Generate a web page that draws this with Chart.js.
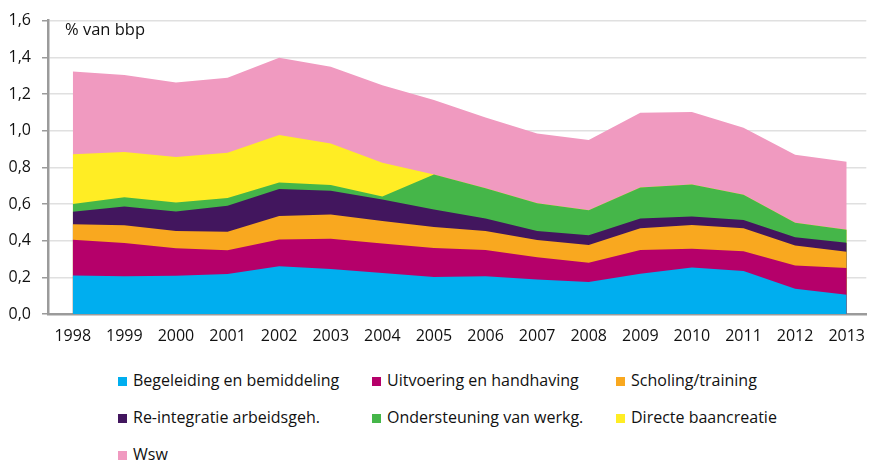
<!DOCTYPE html>
<html>
<head>
<meta charset="utf-8">
<script src="https://cdn.jsdelivr.net/npm/chart.js@4/dist/chart.umd.min.js"></script>
<style>
  html, body { margin: 0; padding: 0; background: #ffffff; }
  #wrap { position: relative; width: 878px; height: 463px; }
  #chart-box { position: absolute; left: 0; top: 0; width: 878px; height: 360px; }
  #legend {
    position: absolute; left: 118px; top: 362px;
    display: grid; grid-template-columns: 254px 244px 244px;
    font-family: "Open Sans", sans-serif; font-size: 16px; color: #111111;
  }
  .item { height: 37px; line-height: 37px; white-space: nowrap; }
  .swatch { display: inline-block; width: 9px; height: 9px; margin-right: 6px; }
</style>
</head>
<body>
<div id="wrap">
  <div id="chart-box"><canvas id="chart"></canvas></div>
  <div id="legend"></div>
</div>
<script>
// years on the x axis
const years = [1998, 1999, 2000, 2001, 2002, 2003, 2004, 2005, 2006, 2007, 2008, 2009, 2010, 2011, 2012, 2013];

// % van bbp per category (stacked, bottom to top)
const begeleiding   = [0.210, 0.206, 0.208, 0.218, 0.261, 0.245, 0.224, 0.202, 0.206, 0.188, 0.175, 0.220, 0.253, 0.234, 0.138, 0.105];
const uitvoering    = [0.195, 0.181, 0.150, 0.129, 0.145, 0.165, 0.161, 0.158, 0.143, 0.122, 0.105, 0.129, 0.103, 0.108, 0.127, 0.146];
const scholing      = [0.085, 0.097, 0.095, 0.102, 0.128, 0.133, 0.122, 0.115, 0.104, 0.093, 0.096, 0.119, 0.129, 0.126, 0.109, 0.088];
const reintegratie  = [0.067, 0.102, 0.106, 0.142, 0.147, 0.129, 0.118, 0.095, 0.068, 0.050, 0.054, 0.053, 0.047, 0.044, 0.045, 0.050];
const ondersteuning = [0.043, 0.050, 0.049, 0.041, 0.036, 0.032, 0.016, 0.191, 0.165, 0.151, 0.136, 0.169, 0.174, 0.138, 0.079, 0.071];
const baancreatie   = [0.271, 0.247, 0.248, 0.248, 0.259, 0.226, 0.184, 0, 0, 0, 0, 0, 0, 0, 0, 0];
const wsw           = [0.451, 0.421, 0.407, 0.408, 0.422, 0.419, 0.422, 0.406, 0.386, 0.381, 0.383, 0.408, 0.396, 0.366, 0.371, 0.370];

const yTicks = [0, 0.2, 0.4, 0.6, 0.8, 1.0, 1.2, 1.4, 1.6];

const series = [
    { label: "Begeleiding en bemiddeling", data: begeleiding, color: "#00aeef" },
    { label: "Uitvoering en handhaving", data: uitvoering, color: "#b5006a" },
    { label: "Scholing/training", data: scholing, color: "#f9a81f" },
    { label: "Re-integratie arbeidsgeh.", data: reintegratie, color: "#42165e" },
    { label: "Ondersteuning van werkg.", data: ondersteuning, color: "#45b649" },
    { label: "Directe baancreatie", data: baancreatie, color: "#ffed24" },
    { label: "Wsw", data: wsw, color: "#f09ac0" }
];

const unitLabel = {
    id: "unitLabel",
    afterDraw(chart) {
        const ctx = chart.ctx;
        ctx.save();
        ctx.font = "16.5px 'Open Sans', sans-serif";
        ctx.fillStyle = "#111111";
        ctx.textBaseline = "middle";
        ctx.fillText("% van bbp", chart.chartArea.left + 17, 30);
        ctx.restore();
    }
};

new Chart(document.getElementById("chart"), {
    type: "line",
    data: {
        datasets: series.map(s => ({
            label: s.label,
            data: years.map((y, i) => ({ x: y, y: s.data[i] })),
            backgroundColor: s.color,
            borderColor: s.color,
            borderWidth: 0,
            pointRadius: 0,
            tension: 0,
            fill: "origin"
        }))
    },
    options: {
        responsive: true,
        maintainAspectRatio: false,
        animation: false,
        layout: { padding: { top: 17, right: 0, left: 0, bottom: 0 } },
        plugins: {
            legend: { display: false },
            tooltip: { enabled: false }
        },
        scales: {
            x: {
                type: "linear",
                min: 1997.52,
                max: 2013.38,
                afterFit(scale) { scale.height = 46; },
                border: { color: "#9b9b9b", width: 2.5 },
                grid: { display: false, drawTicks: false },
                ticks: {
                    stepSize: 1,
                    includeBounds: false,
                    padding: 13,
                    color: "#111111",
                    font: { family: "'Open Sans', sans-serif", size: 16 },
                    callback: v => String(v)
                }
            },
            y: {
                stacked: true,
                min: 0,
                max: 1.6,
                afterFit(scale) { scale.width = 48; },
                afterBuildTicks(scale) { scale.ticks = yTicks.map(v => ({ value: v })); },
                border: { color: "#9b9b9b", width: 2.5 },
                grid: { color: "#e0e0e0", lineWidth: 1.5, tickLength: 6, tickColor: "#9b9b9b" },
                ticks: {
                    padding: 11,
                    color: "#111111",
                    font: { family: "'Open Sans', sans-serif", size: 16 },
                    callback: v => v.toFixed(1).replace(".", ",")
                }
            }
        }
    },
    plugins: [unitLabel]
});

const legend = document.getElementById("legend");
series.forEach(s => {
    const item = document.createElement("div");
    item.className = "item";
    const sw = document.createElement("span");
    sw.className = "swatch";
    sw.style.background = s.color;
    item.appendChild(sw);
    item.appendChild(document.createTextNode(s.label));
    legend.appendChild(item);
});
</script>
</body>
</html>
